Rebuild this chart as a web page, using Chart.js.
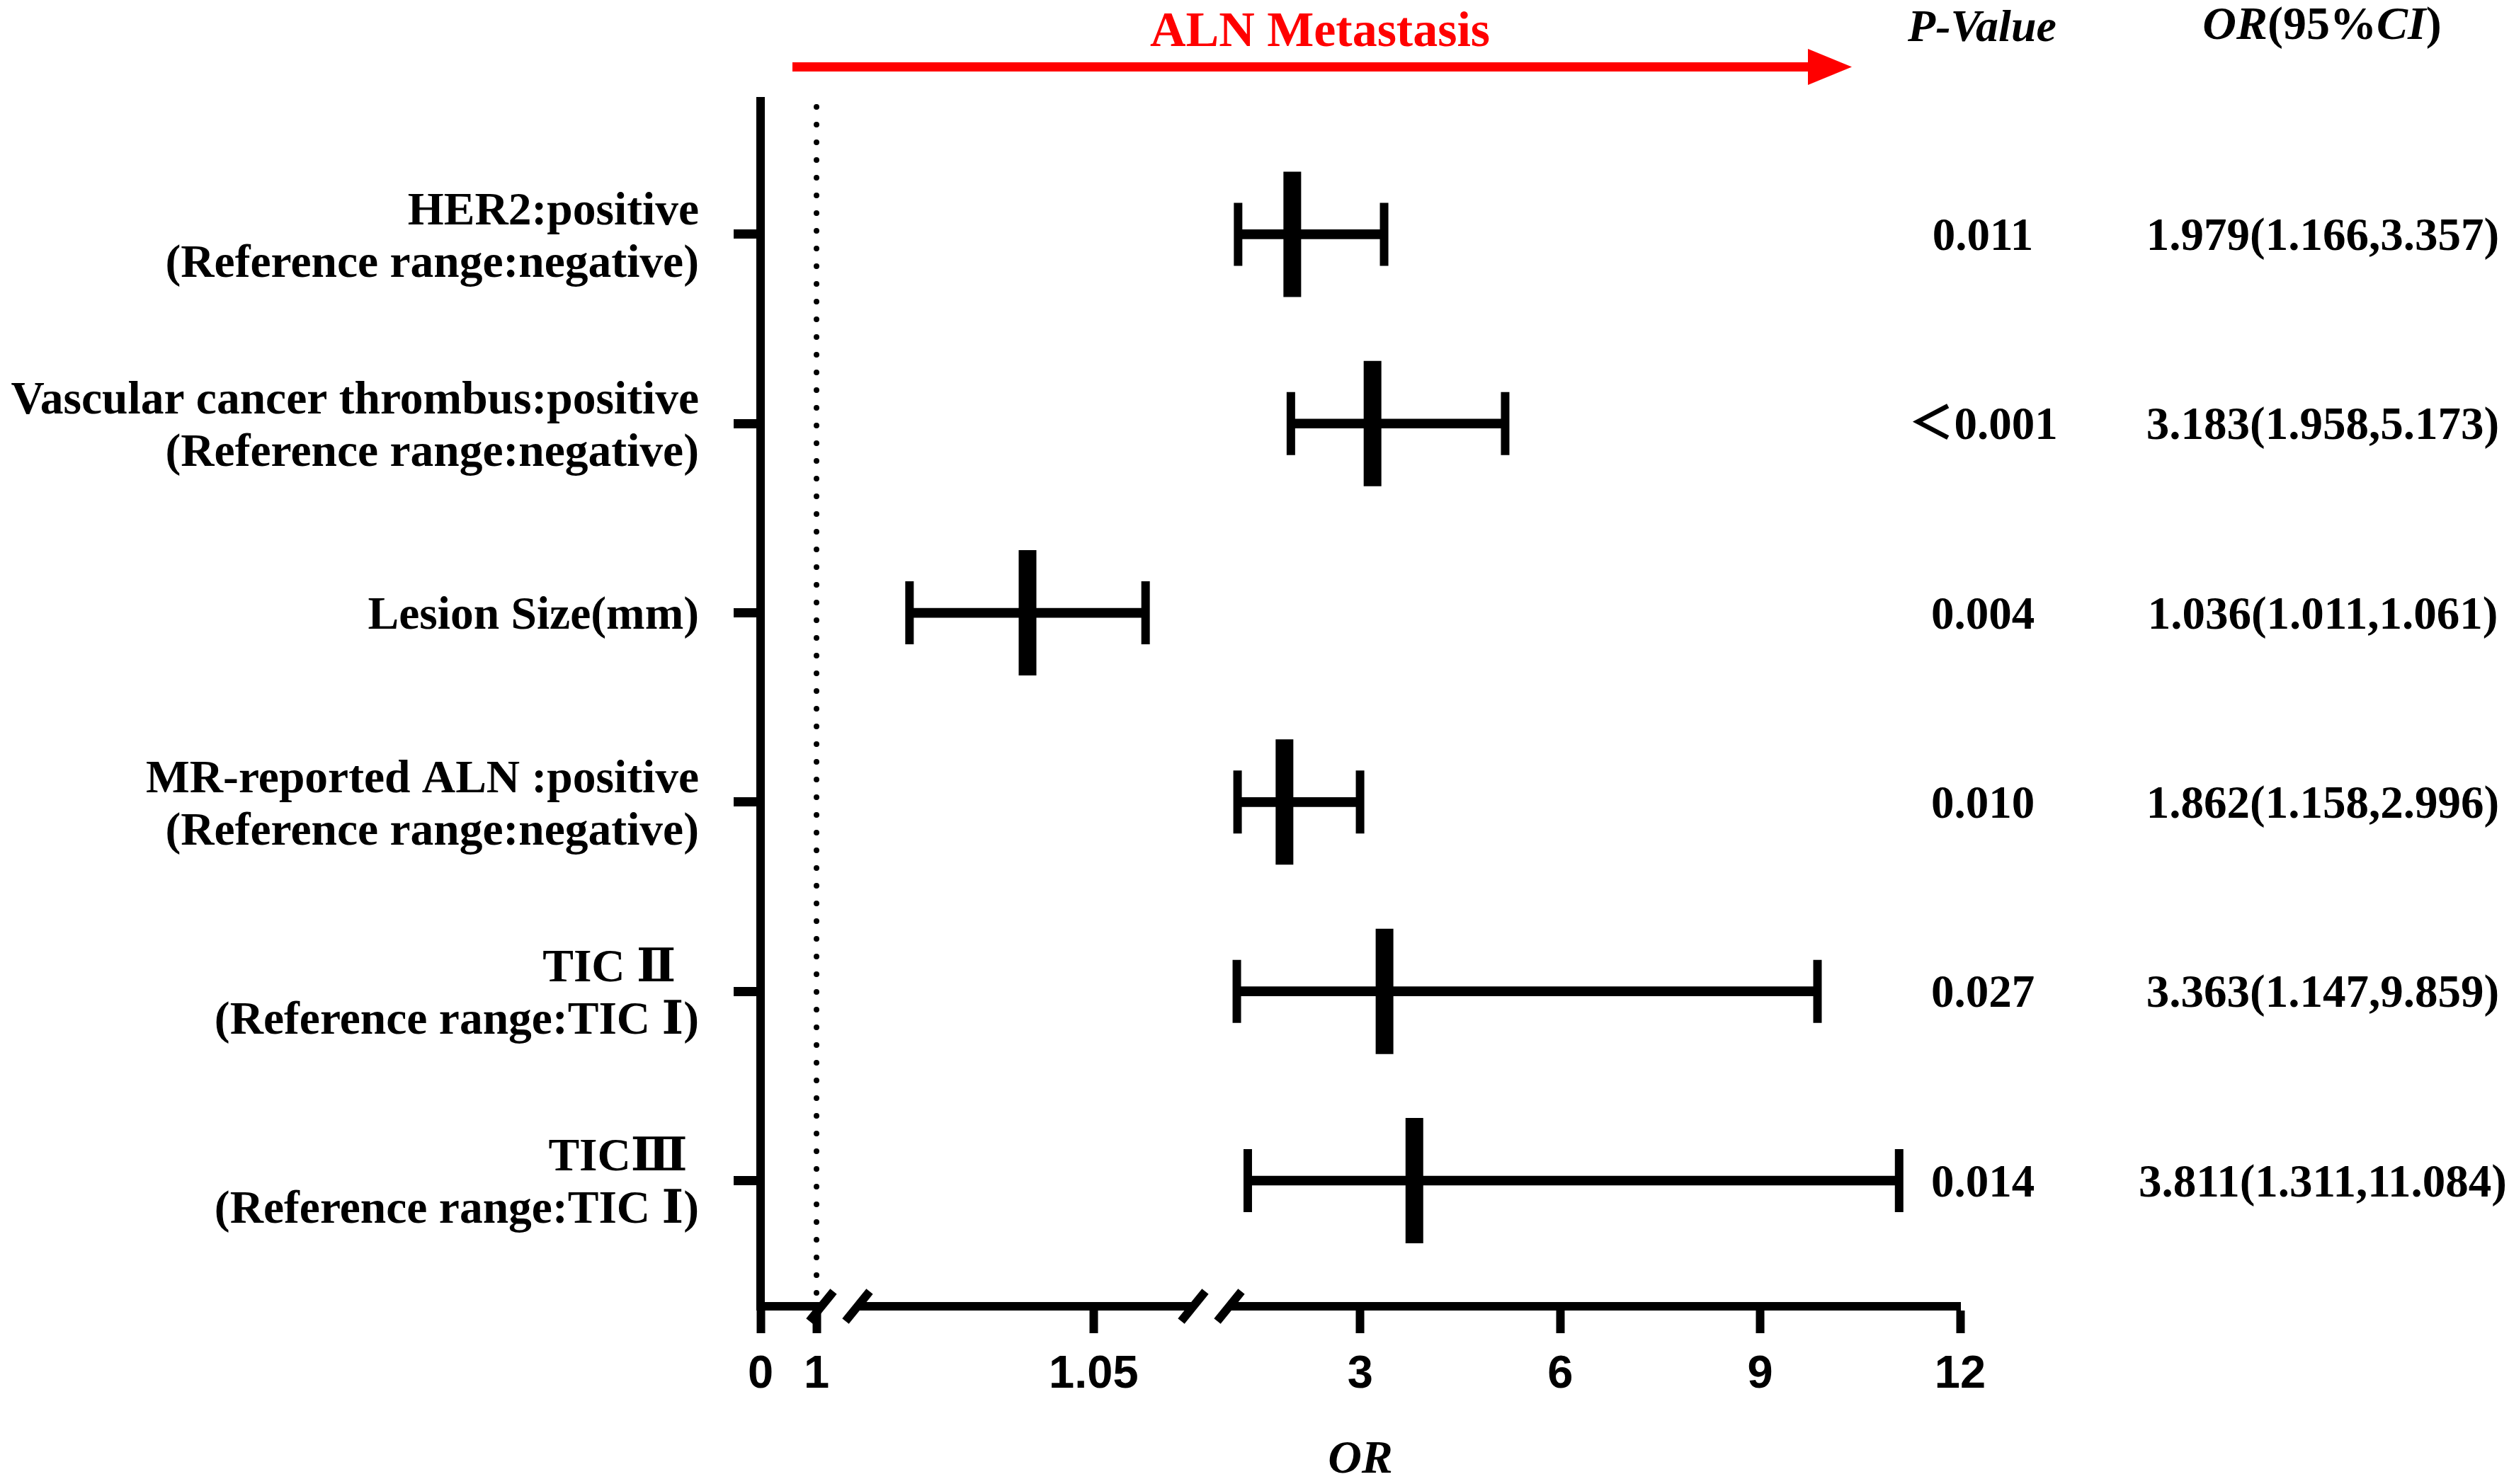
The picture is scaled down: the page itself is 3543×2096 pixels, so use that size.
<!DOCTYPE html>
<html>
<head>
<meta charset="utf-8">
<title>ALN Metastasis forest plot</title>
<script src="https://cdn.jsdelivr.net/npm/chart.js@4.4.1/dist/chart.umd.min.js"></script>
<style>
  html, body { margin: 0; padding: 0; background: #fff; overflow: hidden; }
  canvas { display: block; }
</style>
</head>
<body>
<canvas id="forest" width="3543" height="2096"></canvas>
<script>
// rows, top to bottom
const rowLabels = [
  ["HER2:positive", "(Reference range:negative)"],
  ["Vascular cancer thrombus:positive", "(Reference range:negative)"],
  "Lesion Size(mm)",
  ["MR-reported ALN :positive", "(Reference range:negative)"],
  ["TIC \u2161  ", "(Reference range:TIC \u2160)"],
  ["TIC\u2162 ", "(Reference range:TIC \u2160)"],
];
const oddsRatio = [1.979, 3.183, 1.036, 1.862, 3.363, 3.811];
const ciLower = [1.166, 1.958, 1.011, 1.158, 1.147, 1.311];
const ciUpper = [3.357, 5.173, 1.061, 2.996, 9.859, 11.084];
const pValues = ["0.011", "\uFF1C0.001", "0.004", "0.010", "0.027", "0.014"];

const xTickValues = [0, 1, 1.05, 3, 6, 9, 12];
const xTickLabels = ["0", "1", "1.05", "3", "6", "9", "12"];

const SERIF = "'Liberation Serif', 'Times New Roman', 'DejaVu Serif', 'Noto Sans CJK SC', serif";
const SANS = "'Liberation Sans', Arial, sans-serif";

const Y_MIN = -0.703;
const Y_MAX = 5.664;

// broken x axis: every piece maps a value range onto a stretch of the axis (px from its start)
const AXIS_LEN = 1694;
const xPieces = [
  { from: 0, to: 1, start: 0, end: 79 },
  { from: 1, to: 1.0711, start: 137, end: 611 },
  { from: 1.0711, to: 12, start: 665.4, end: 1694 },
];
const xBreaks = [[86, 137], [611, 662]]; // slash centres, px from axis start

function brokenFraction(v) {
  let p = xPieces[xPieces.length - 1];
  for (const piece of xPieces) {
    if (v <= piece.to) { p = piece; break; }
  }
  const t = (v - p.from) / (p.to - p.from);
  return (p.start + t * (p.end - p.start)) / AXIS_LEN;
}

class BrokenScale extends Chart.LinearScale {
  buildTicks() {
    return xTickValues.map((v) => ({ value: v }));
  }
  getPixelForValue(value) {
    if (value === null || isNaN(value)) return NaN;
    return this.getPixelForDecimal(brokenFraction(value));
  }
}
BrokenScale.id = "broken";
BrokenScale.defaults = Chart.LinearScale.defaults;
Chart.register(BrokenScale);

function orText(i) {
  return `${oddsRatio[i].toFixed(3)}(${ciLower[i].toFixed(3)},${ciUpper[i].toFixed(3)})`;
}

// draws text pieces with mixed styles, centred on cx
function mixedText(ctx, parts, cx, baseline) {
  let total = 0;
  parts.forEach((p) => { ctx.font = p.font; total += ctx.measureText(p.text).width; });
  let xPos = cx - total / 2;
  ctx.textAlign = "left";
  parts.forEach((p) => {
    ctx.font = p.font;
    ctx.fillText(p.text, xPos, baseline);
    xPos += ctx.measureText(p.text).width;
  });
}

const decorations = {
  id: "decorations",
  afterDraw(chart) {
    const { ctx } = chart;
    const x = chart.scales.x;
    const y = chart.scales.y;
    ctx.save();

    // breaks in the x axis
    const axisY = x.top;
    xBreaks.forEach(([a, b]) => {
      const xa = x.left + a;
      const xb = x.left + b;
      ctx.fillStyle = "#fff";
      ctx.fillRect(xa, axisY - 8, xb - xa, 16);
      ctx.strokeStyle = "#000";
      ctx.lineWidth = 12;
      ctx.lineCap = "butt";
      [xa, xb].forEach((cx) => {
        ctx.beginPath();
        ctx.moveTo(cx - 17, axisY + 21);
        ctx.lineTo(cx + 17, axisY - 21);
        ctx.stroke();
      });
    });

    // red arrow and its caption
    ctx.fillStyle = "#ff0000";
    ctx.fillRect(1119, 88, 2553 - 1119, 13);
    ctx.beginPath();
    ctx.moveTo(2553, 69);
    ctx.lineTo(2615, 94.5);
    ctx.lineTo(2553, 120);
    ctx.closePath();
    ctx.fill();
    ctx.font = `bold 70px ${SERIF}`;
    ctx.textAlign = "center";
    ctx.textBaseline = "alphabetic";
    ctx.fillText("ALN Metastasis", 1864, 65);

    // column headers
    ctx.fillStyle = "#000";
    ctx.font = `italic bold 64px ${SERIF}`;
    ctx.fillText("P-Value", 2799, 58);
    mixedText(ctx, [
      { text: "OR", font: `italic bold 66px ${SERIF}` },
      { text: "(95%", font: `bold 66px ${SERIF}` },
      { text: "CI", font: `italic bold 66px ${SERIF}` },
      { text: ")", font: `bold 66px ${SERIF}` },
    ], 3279, 55);

    // p-values and OR(95%CI) per row
    ctx.font = `bold 65px ${SERIF}`;
    ctx.textAlign = "center";
    pValues.forEach((p, i) => {
      const py = y.getPixelForValue(i) + 22;
      ctx.fillText(p, 2800, py);
      ctx.fillText(orText(i), 3280, py);
    });
    ctx.restore();
  },
};

new Chart(document.getElementById("forest"), {
  type: "scatter",
  data: {
    datasets: [
      {
        type: "line",
        label: "OR = 1",
        data: [{ x: 1, y: Y_MIN + 0.03 }, { x: 1, y: Y_MAX }],
        borderColor: "#000",
        borderWidth: 8,
        borderDash: [0, 25],
        borderCapStyle: "round",
        pointRadius: 0,
        fill: false,
      },
      {
        type: "bar",
        label: "95% CI",
        indexAxis: "y",
        data: ciLower.map((lo, i) => ({ x: [lo, ciUpper[i]], y: i })),
        backgroundColor: "#000",
        borderWidth: 0,
        barThickness: 13,
      },
      {
        label: "lower",
        data: ciLower.map((v, i) => ({ x: v, y: i })),
        pointStyle: "line",
        rotation: 90,
        radius: 44.5,
        borderWidth: 12,
        borderColor: "#000",
      },
      {
        label: "upper",
        data: ciUpper.map((v, i) => ({ x: v, y: i })),
        pointStyle: "line",
        rotation: 90,
        radius: 44.5,
        borderWidth: 12,
        borderColor: "#000",
      },
      {
        label: "OR",
        data: oddsRatio.map((v, i) => ({ x: v, y: i })),
        pointStyle: "line",
        rotation: 90,
        radius: 88.5,
        borderWidth: 25,
        borderColor: "#000",
      },
    ],
  },
  options: {
    responsive: false,
    devicePixelRatio: 1,
    animation: false,
    events: [],
    layout: { padding: { top: 143, right: 775, bottom: 0, left: 0 } },
    plugins: { legend: { display: false }, tooltip: { enabled: false } },
    scales: {
      x: {
        type: "broken",
        min: 0,
        max: 12,
        offset: false,
        afterFit: (scale) => { scale.height = 251; },
        border: { display: true, color: "#000", width: 12 },
        grid: {
          drawOnChartArea: false,
          drawTicks: true,
          tickLength: 38,
          tickWidth: 12,
          tickColor: "#000",
          offset: false,
        },
        ticks: {
          autoSkip: false,
          maxRotation: 0,
          padding: 20,
          color: "#000",
          font: { family: SANS, size: 65, weight: "bold", lineHeight: 1.2 },
          callback: (value, index) => xTickLabels[index],
        },
        title: {
          display: true,
          text: "OR",
          color: "#000",
          padding: { top: 0, bottom: 0 },
          font: { family: SERIF, size: 66, weight: "bold", style: "italic", lineHeight: 1 },
        },
      },
      y: {
        type: "linear",
        reverse: true,
        min: Y_MIN,
        max: Y_MAX,
        offset: false,
        afterFit: (scale) => { scale.width = 1074; },
        afterBuildTicks: (scale) => {
          scale.ticks = rowLabels.map((_, i) => ({ value: i }));
        },
        border: { display: true, color: "#000", width: 12 },
        grid: {
          drawOnChartArea: false,
          drawTicks: true,
          tickLength: 38,
          tickWidth: 13,
          tickColor: "#000",
          offset: false,
        },
        ticks: {
          autoSkip: false,
          padding: 49,
          labelOffset: 6,
          color: "#000",
          font: { family: SERIF, size: 65.5, weight: "bold", lineHeight: 1.13 },
          callback: (value) => rowLabels[value],
        },
      },
    },
  },
  plugins: [decorations],
});
</script>
</body>
</html>
